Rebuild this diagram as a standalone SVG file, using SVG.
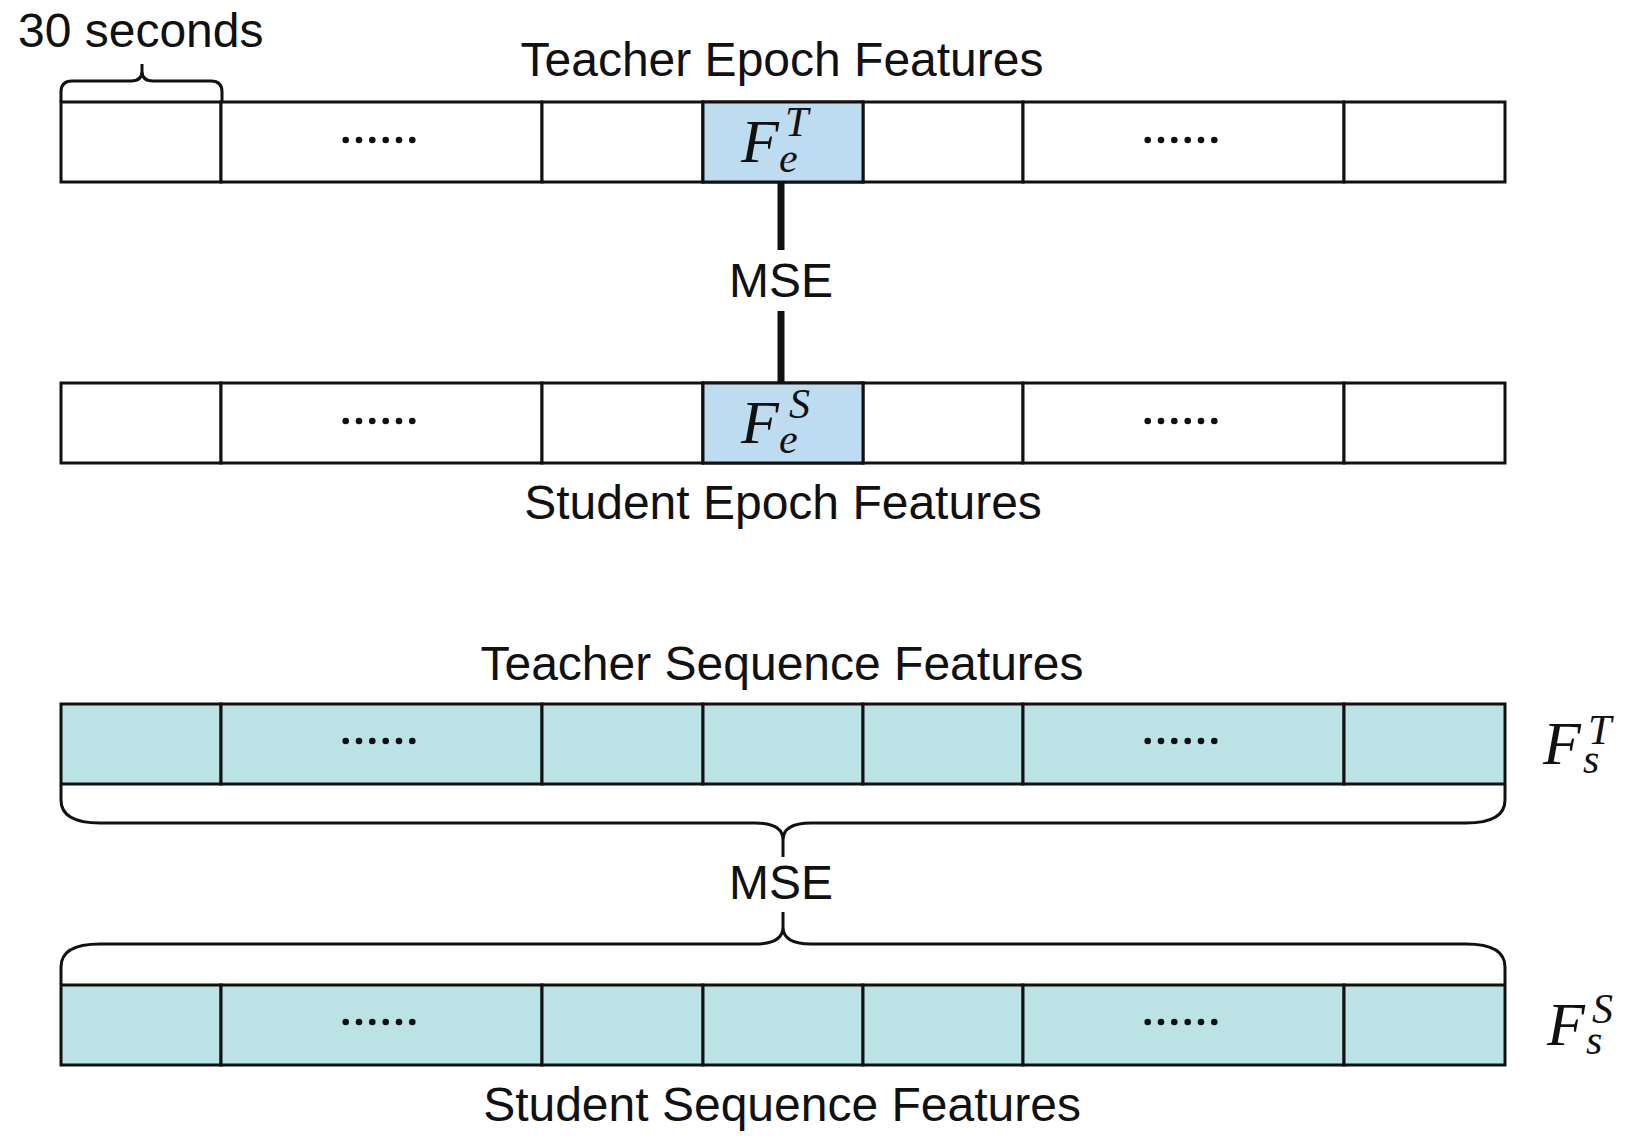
<svg xmlns="http://www.w3.org/2000/svg" xmlns:xlink="http://www.w3.org/1999/xlink" width="1652" height="1144" viewBox="0 0 1652 1144">
<style>
.cell{fill:#ffffff;stroke:#111;stroke-width:3}
.hi{fill:#bddcf0}
.seq{fill:#bbe2e5}
.lbl{font-family:"Liberation Sans",Arial,Helvetica,sans-serif;font-size:48px;fill:#111}
.mid{text-anchor:middle}
.m{font-family:"Liberation Serif","Times New Roman",serif;font-style:italic;fill:#111}
.mF{font-size:62px}
.ms{font-size:42px}
.brace{fill:none;stroke:#111;stroke-width:3;stroke-linejoin:round}
.conn{stroke:#111;stroke-width:7;fill:none}
</style>
<defs>
<g id="dots" fill="#111">
<circle cx="-33.3" cy="0" r="3.3"/><circle cx="-20" cy="0" r="3.3"/><circle cx="-6.7" cy="0" r="3.3"/><circle cx="6.7" cy="0" r="3.3"/><circle cx="20" cy="0" r="3.3"/><circle cx="33.3" cy="0" r="3.3"/>
</g>
<g id="bar">
<rect class="cell" x="61" y="0" width="160" height="80"/>
<rect class="cell" x="221" y="0" width="321" height="80"/>
<rect class="cell" x="542" y="0" width="161" height="80"/>
<rect class="cell" x="703" y="0" width="160" height="80"/>
<rect class="cell" x="863" y="0" width="160" height="80"/>
<rect class="cell" x="1023" y="0" width="321" height="80"/>
<rect class="cell" x="1344" y="0" width="161" height="80"/>
<use xlink:href="#dots" x="379" y="38"/>
<use xlink:href="#dots" x="1181" y="38"/>
</g>
<g id="seqbar">
<rect class="cell seq" x="61" y="0" width="160" height="80"/>
<rect class="cell seq" x="221" y="0" width="321" height="80"/>
<rect class="cell seq" x="542" y="0" width="161" height="80"/>
<rect class="cell seq" x="703" y="0" width="160" height="80"/>
<rect class="cell seq" x="863" y="0" width="160" height="80"/>
<rect class="cell seq" x="1023" y="0" width="321" height="80"/>
<rect class="cell seq" x="1344" y="0" width="161" height="80"/>
<use xlink:href="#dots" x="379" y="37"/>
<use xlink:href="#dots" x="1181" y="37"/>
</g>
</defs>

<g id="thirty-seconds">
<text class="lbl" x="18" y="47">30 seconds</text>
<path class="brace" d="M61,102 V92 Q61,81 72,81 H131 Q142,81 142,71 Q142,81 153,81 H211 Q222,81 222,92 V102 M142,72 V64"/>
</g>

<g id="teacher-epoch">
<text class="lbl mid" x="782" y="76">Teacher Epoch Features</text>
<use xlink:href="#bar" x="0" y="102"/>
<rect class="cell hi" x="703" y="102" width="160" height="80"/>
<text class="m mF" x="741" y="162">F</text>
<text class="m ms" x="785" y="136">T</text>
<text class="m ms" x="779" y="172">e</text>
</g>

<g id="student-epoch">
<use xlink:href="#bar" x="0" y="383"/>
<rect class="cell hi" x="703" y="383" width="160" height="80"/>
<text class="m mF" x="741" y="443">F</text>
<text class="m ms" x="789" y="418">S</text>
<text class="m ms" x="779" y="453">e</text>
<text class="lbl mid" x="783" y="519">Student Epoch Features</text>
</g>

<g id="teacher-seq">
<text class="lbl mid" x="782" y="680">Teacher Sequence Features</text>
<use xlink:href="#seqbar" x="0" y="704"/>
<text class="m mF" x="1543" y="764">F</text>
<text class="m ms" x="1588" y="744">T</text>
<text class="m ms" x="1583" y="773">s</text>
</g>

<g id="student-seq">
<use xlink:href="#seqbar" x="0" y="985"/>
<text class="m mF" x="1547" y="1045">F</text>
<text class="m ms" x="1592" y="1023">S</text>
<text class="m ms" x="1586" y="1054">s</text>
<text class="lbl mid" x="782" y="1121">Student Sequence Features</text>
</g>

<g id="connectors">
<line class="conn" x1="781" y1="183" x2="781" y2="250"/>
<line class="conn" x1="781" y1="311" x2="781" y2="382"/>
<text class="lbl mid" x="781" y="297">MSE</text>
<path class="brace" d="M61,785 V800 Q61,823 100,823 H755 Q783,823 783,840 V857 M783,840 Q783,823 811,823 H1466 Q1505,823 1505,800 V785"/>
<text class="lbl mid" x="781" y="899">MSE</text>
<path class="brace" d="M783,912 V927 Q783,944 755,944 H100 Q61,944 61,967 V984 M783,927 Q783,944 811,944 H1466 Q1505,944 1505,967 V984"/>
</g>
</svg>
